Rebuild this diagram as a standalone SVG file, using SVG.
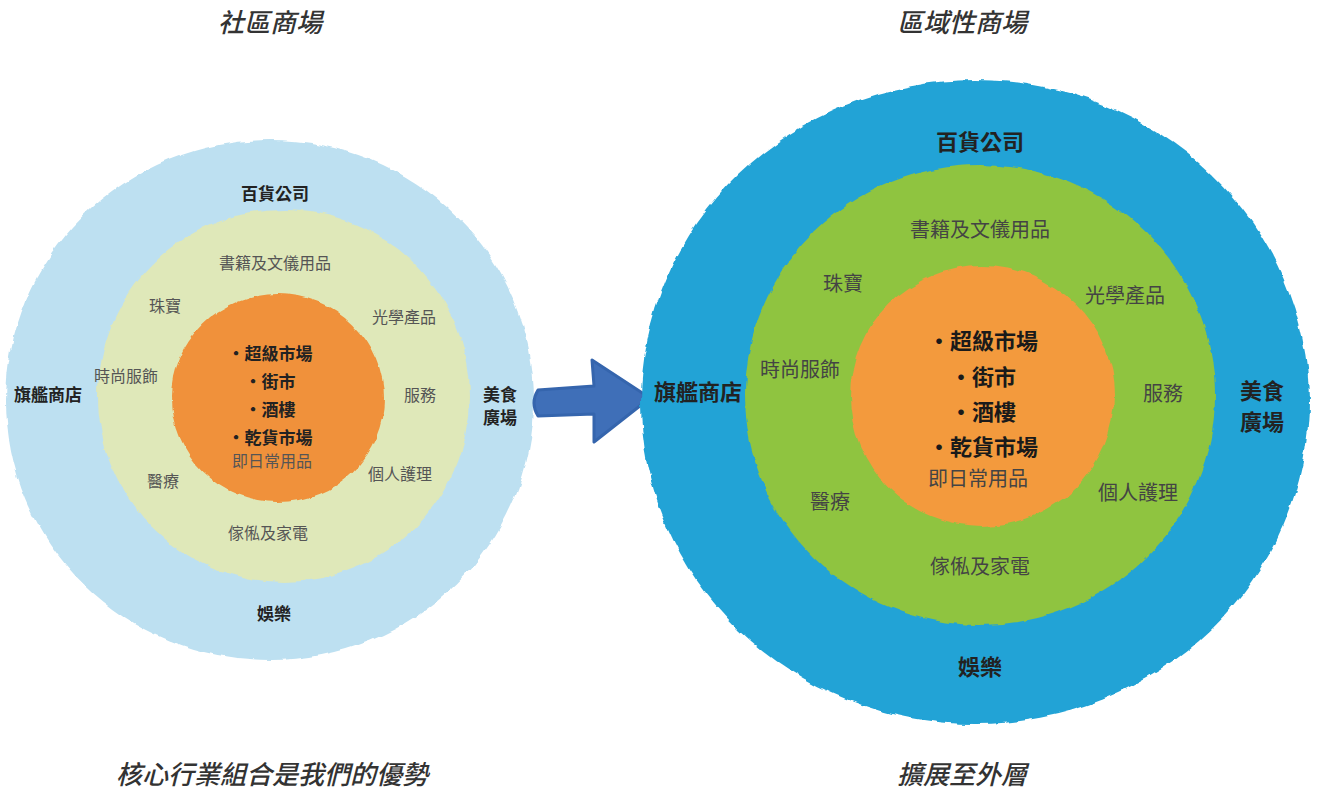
<svg xmlns="http://www.w3.org/2000/svg" width="1319" height="788" viewBox="0 0 1319 788">
<defs>
<filter id="rough" x="-10%" y="-10%" width="120%" height="120%">
<feTurbulence type="fractalNoise" baseFrequency="0.05" numOctaves="3" seed="3" result="n"/>
<feDisplacementMap in="SourceGraphic" in2="n" scale="6" xChannelSelector="R" yChannelSelector="G"/>
</filter>
<style>
text{font-family:"Noto Sans CJK TC","Noto Sans CJK SC",sans-serif;text-anchor:middle;dominant-baseline:central}
.t{font-size:26px;font-style:italic;font-weight:500;fill:#333}
.b1{font-size:17px;font-weight:bold;fill:#222}
.r1{font-size:16px;fill:#555}
.c1{font-size:17px;font-weight:bold;fill:#222}
.b2{font-size:22px;font-weight:bold;fill:#222}
.r2{font-size:20px;fill:#444}
.c2{font-size:22px;font-weight:bold;fill:#1a1a1a}
</style>
</defs>
<rect width="1319" height="788" fill="#ffffff"/>
<g id="titles">
<text class="t" x="270" y="20">社區商場</text>
<text class="t" x="962" y="20">區域性商場</text>
<text class="t" x="272" y="772">核心行業組合是我們的優勢</text>
<text class="t" x="962" y="772">擴展至外層</text>
</g>
<g id="left-diagram">
<g id="left-outer"><ellipse cx="270" cy="400" rx="264" ry="260" fill="#bde0f1" filter="url(#rough)"/></g>
<g id="left-middle"><ellipse cx="284" cy="396" rx="186" ry="186" fill="#dfe8b9" filter="url(#rough)"/></g>
<g id="left-core"><ellipse cx="278" cy="398" rx="106" ry="104" fill="#f0913a" filter="url(#rough)"/></g>
<g id="left-labels">
<text class="b1" x="275" y="192">百貨公司</text>
<text class="r1" x="275" y="262">書籍及文儀用品</text>
<text class="r1" x="165" y="305">珠寶</text>
<text class="r1" x="404" y="316">光學產品</text>
<text class="r1" x="126" y="375">時尚服飾</text>
<text class="r1" x="420" y="394">服務</text>
<text class="b1" x="48" y="393">旗艦商店</text>
<text class="b1" x="500" y="393">美食</text>
<text class="b1" x="500" y="416">廣場</text>
<text class="c1" x="270" y="352">•超級市場</text>
<text class="c1" x="270" y="380">•街市</text>
<text class="c1" x="270" y="408">•酒樓</text>
<text class="c1" x="270" y="436">•乾貨市場</text>
<text class="r1" x="272" y="460">即日常用品</text>
<text class="r1" x="163" y="480">醫療</text>
<text class="r1" x="400" y="473">個人護理</text>
<text class="r1" x="268" y="532">傢俬及家電</text>
<text class="b1" x="274" y="612">娛樂</text>
</g>
</g>
<g id="connectors">
<path d="M538 390 L594 386 L592 360 L650 398 L594 442 L594 414 L538 416 Q530 403 538 390 Z" fill="#3f6fb8" stroke="#3565ad" stroke-width="3" stroke-linejoin="round"/>
</g>
<g id="right-diagram">
<g id="right-outer"><ellipse cx="975" cy="402" rx="334" ry="322" fill="#22a3d6" filter="url(#rough)"/></g>
<g id="right-middle"><ellipse cx="980" cy="395" rx="235" ry="230" fill="#8fc43f" filter="url(#rough)"/></g>
<g id="right-core"><ellipse cx="982" cy="396" rx="132" ry="130" fill="#f39a3e" filter="url(#rough)"/></g>
<g id="right-labels">
<text class="b2" x="980" y="140">百貨公司</text>
<text class="r2" x="980" y="228">書籍及文儀用品</text>
<text class="r2" x="843" y="282">珠寶</text>
<text class="r2" x="1125" y="294">光學產品</text>
<text class="r2" x="800" y="368">時尚服飾</text>
<text class="r2" x="1163" y="392">服務</text>
<text class="b2" x="698" y="390">旗艦商店</text>
<text class="b2" x="1262" y="389">美食</text>
<text class="b2" x="1262" y="420">廣場</text>
<text class="c2" x="983" y="339">•超級市場</text>
<text class="c2" x="983" y="375">•街市</text>
<text class="c2" x="983" y="410">•酒樓</text>
<text class="c2" x="983" y="445">•乾貨市場</text>
<text class="r2" x="978" y="477">即日常用品</text>
<text class="r2" x="830" y="500">醫療</text>
<text class="r2" x="1138" y="491">個人護理</text>
<text class="r2" x="980" y="565">傢俬及家電</text>
<text class="b2" x="980" y="665">娛樂</text>
</g>
</g>
</svg>
